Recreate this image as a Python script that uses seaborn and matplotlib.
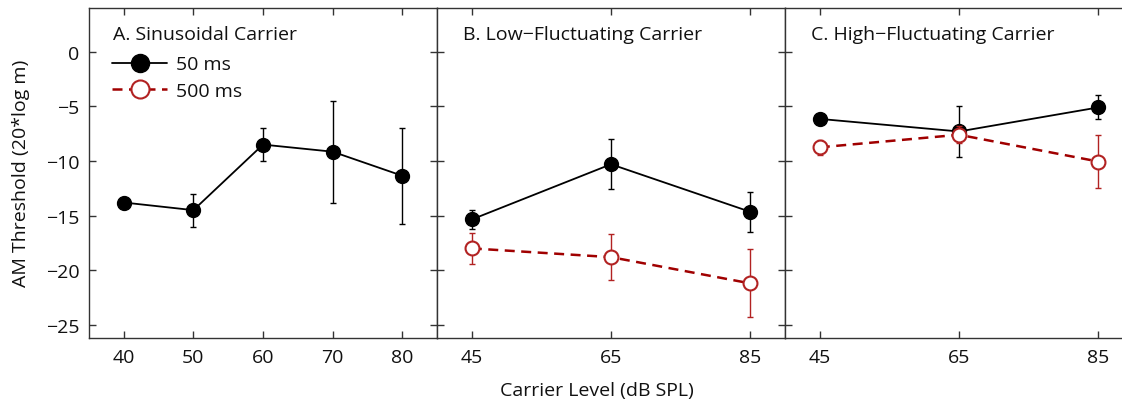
import matplotlib
matplotlib.use("Agg")
import matplotlib.pyplot as plt
import seaborn as sns
import numpy as np

sns.set_theme(style="white")
plt.rcParams["font.family"] = ["Open Sans", "DejaVu Sans"]

# ---- data ----
levels_a = [40, 50, 60, 70, 80]
a50 = [-13.8, -14.5, -8.5, -9.15, -11.35]
a50_err = [0.4, 1.5, 1.5, 4.65, 4.4]

levels_bc = [45, 65, 85]
b50 = [-15.35, -10.3, -14.65]
b50_err = [0.85, 2.3, 1.85]
b500 = [-18.0, -18.8, -21.2]
b500_err = [1.4, 2.1, 3.1]

c50 = [-6.15, -7.3, -5.1]
c50_err = [0.3, 2.35, 1.1]
c500 = [-8.75, -7.6, -10.05]
c500_err = [0.7, 0.8, 2.4]

titles = ["A. Sinusoidal Carrier", "B. Low\u2212Fluctuating Carrier", "C. High\u2212Fluctuating Carrier"]
yticks = [0, -5, -10, -15, -20, -25]
ytick_labels = ["0", "\u22125", "\u221210", "\u221215", "\u221220", "\u221225"]
series_labels = ["50 ms", "500 ms"]

BLACK = "#000000"
RED_LINE = "#a00000"
RED_ERR = "#b22222"
SPINE = "#333333"

W, H = 1122, 402
fig = plt.figure(figsize=(W / 100, H / 100), dpi=100)

left0 = 89 / W
pw = 348 / W
bottom = 1 - 339 / H
height = (339 - 9) / H

axes = [fig.add_axes([left0 + i * pw, bottom, pw, height]) for i in range(3)]
xlims = [(35, 85), (40, 90), (40, 90)]


def draw(ax, x, y, err, kind, label):
    if kind == "solid":
        ax.errorbar(x, y, yerr=err, fmt="none", ecolor=BLACK, elinewidth=1.0,
                    capsize=2.5, capthick=1.0, zorder=2)
        sns.lineplot(x=x, y=y, ax=ax, color=BLACK, linewidth=1.3, marker="o",
                     markersize=10, markerfacecolor=BLACK, markeredgecolor=BLACK,
                     markeredgewidth=1.0, label=label, zorder=3, legend=False)
    else:
        ax.errorbar(x, y, yerr=err, fmt="none", ecolor=RED_ERR, elinewidth=1.0,
                    capsize=2.2, capthick=1.0, zorder=4)
        sns.lineplot(x=x, y=y, ax=ax, color=RED_LINE, linewidth=1.8, marker="o",
                     markersize=10, markerfacecolor="white", markeredgecolor=RED_ERR,
                     markeredgewidth=1.5, dashes=(4, 2.6), label=label, zorder=5,
                     legend=False)


draw(axes[0], levels_a, a50, a50_err, "solid", series_labels[0])
draw(axes[1], levels_bc, b50, b50_err, "solid", series_labels[0])
draw(axes[1], levels_bc, b500, b500_err, "dashed", series_labels[1])
draw(axes[2], levels_bc, c50, c50_err, "solid", series_labels[0])
draw(axes[2], levels_bc, c500, c500_err, "dashed", series_labels[1])

# legend entry for the 500 ms series in panel A (no data there)
sns.lineplot(x=[np.nan, np.nan], y=[np.nan, np.nan], ax=axes[0], color=RED_LINE,
             linewidth=1.8, marker="o", markersize=10, markerfacecolor="white",
             markeredgecolor=RED_ERR, markeredgewidth=1.5, dashes=(4, 2.6),
             label=series_labels[1], legend=False)

for i, ax in enumerate(axes):
    ax.set_xlim(*xlims[i])
    ax.set_ylim(-26.2, 4.0)
    ax.set_xticks(levels_a if i == 0 else levels_bc)
    ax.set_yticks(yticks)
    if i == 0:
        ax.set_yticklabels(ytick_labels)
    else:
        ax.set_yticklabels([])
    ax.set_xlabel("")
    ax.set_ylabel("")
    ax.tick_params(direction="in", top=True, right=(i < 2), bottom=True, left=True,
                   length=5, width=1, color=SPINE, labelsize=14, pad=7,
                   labelcolor="#111111")
    for s in ax.spines.values():
        s.set_color(SPINE)
        s.set_linewidth(1.0)
        s.set_visible(True)
    if i == 2:
        ax.spines["right"].set_visible(False)
    ax.grid(False)
    ax.set_facecolor("white")
    ax.text(0.07 if i == 0 else 0.075, 0.92, titles[i], transform=ax.transAxes,
            fontsize=14, ha="left", va="center", color="#111111")

handles, labels = axes[0].get_legend_handles_labels()
leg = axes[0].legend(handles, labels, loc="upper left", bbox_to_anchor=(0.045, 0.88),
                     frameon=False, fontsize=14, handlelength=2.8, handletextpad=0.45,
                     labelspacing=0.42, markerscale=1.3, borderaxespad=0)
for t in leg.get_texts():
    t.set_color("#111111")

fig.text(597 / W, 1 - 391 / H, "Carrier Level (dB SPL)", ha="center", va="center",
         fontsize=14, color="#111111")
fig.text(21 / W, 1 - 173 / H, "AM Threshold (20*log m)", ha="center", va="center",
         rotation=90, fontsize=14, color="#111111")

fig.savefig("out.png", dpi=100, facecolor="white")
